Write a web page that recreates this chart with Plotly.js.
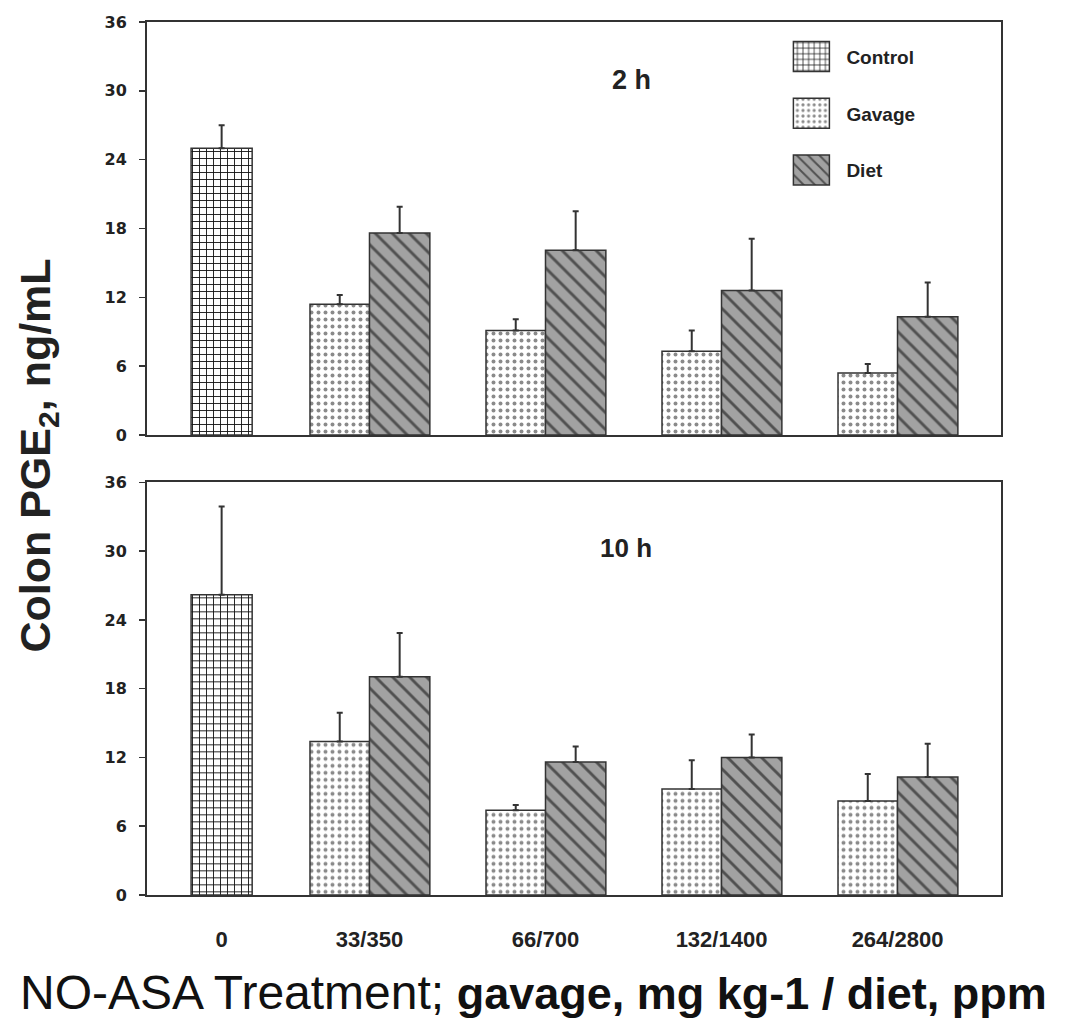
<!DOCTYPE html>
<html><head><meta charset="utf-8">
<script src="https://cdn.plot.ly/plotly-3.0.1.min.js"></script>
<style>body{margin:0;background:#fff}</style>
</head><body>
<div id="chart" style="width:1067px;height:1021px"></div>
<script>
// ---- data ----
const doseLabels = ['0', '33/350', '66/700', '132/1400', '264/2800'];
const seriesNames = ['Control', 'Gavage', 'Diet'];
const panelTitles = ['2 h', '10 h'];

const control2h = [25.0];
const controlErr2h = [2.0];
const gavage2h = [11.4, 9.1, 7.3, 5.4];
const gavageErr2h = [0.8, 1.0, 1.8, 0.8];
const diet2h = [17.6, 16.1, 12.6, 10.3];
const dietErr2h = [2.3, 3.4, 4.5, 3.0];

const control10h = [26.2];
const controlErr10h = [7.7];
const gavage10h = [13.4, 7.4, 9.25, 8.2];
const gavageErr10h = [2.5, 0.45, 2.5, 2.35];
const diet10h = [19.05, 11.6, 12.0, 10.3];
const dietErr10h = [3.8, 1.35, 2.0, 2.9];

const yTicks = [0, 6, 12, 18, 24, 30, 36];

// ---- layout / style ----
const controlSlot = 0.16;
const doseX = doseLabels.slice(1).map((_, i) => i + 1);
const FONT = 'Arial, "Liberation Sans", sans-serif';
const WIDE = '"DejaVu Sans", Verdana, sans-serif';
const lineCol = '#333';

const styles = {
  Control: {color: '#ffffff', pattern: {shape: '+', fgcolor: '#111', bgcolor: '#fff', size: 7, solidity: 0.24}},
  Gavage: {color: '#ffffff', pattern: {shape: '.', fgcolor: '#8a8a8a', bgcolor: '#fff', size: 7, solidity: 0.25}},
  Diet: {color: '#9a9a9a', pattern: {shape: '\\', fgcolor: '#505050', bgcolor: '#a2a2a2', size: 12, solidity: 0.24}}
};

function errObj(arr) {
  return {type: 'data', symmetric: false, array: arr, arrayminus: arr.map(() => 0),
          color: lineCol, thickness: 2, width: 3};
}

function bar(name, x, y, err, xa, ya, showlegend, width, offset) {
  return {
    type: 'bar', name: name, x: x, y: y, xaxis: xa, yaxis: ya,
    width: width, offset: offset, showlegend: showlegend,
    legendgroup: name,
    marker: {color: styles[name].color, pattern: styles[name].pattern,
             line: {color: lineCol, width: 1.5}},
    error_y: errObj(err)
  };
}

const wG = 0.338, wD = 0.343, wC = 0.347;
const traces = [
  bar(seriesNames[0], [controlSlot], control2h, controlErr2h, 'x2', 'y2', true, wC, -wC / 2),
  bar(seriesNames[1], doseX, gavage2h, gavageErr2h, 'x2', 'y2', true, wG, -wG),
  bar(seriesNames[2], doseX, diet2h, dietErr2h, 'x2', 'y2', true, wD, 0),
  bar(seriesNames[0], [controlSlot], control10h, controlErr10h, 'x', 'y', false, wC, -wC / 2),
  bar(seriesNames[1], doseX, gavage10h, gavageErr10h, 'x', 'y', false, wG, -wG),
  bar(seriesNames[2], doseX, diet10h, dietErr10h, 'x', 'y', false, wD, 0)
];

const xRange = [-0.264, 4.588];
const yAxisBase = {
  range: [0, 36], tickvals: yTicks, ticks: 'outside', ticklen: 6, tickwidth: 1.5,
  tickcolor: lineCol, showline: true, linecolor: lineCol, linewidth: 2, mirror: true,
  ticklabelstandoff: 9,
  showgrid: false, zeroline: false, tickfont: {family: WIDE, size: 16, color: '#222', weight: 'bold'}
};

const layout = {
  width: 1067, height: 1021,
  margin: {l: 147, r: 66, t: 22, b: 126},
  paper_bgcolor: '#fff', plot_bgcolor: '#fff',
  barmode: 'overlay',
  font: {family: FONT, color: '#222'},
  xaxis: {domain: [0, 1], anchor: 'y', range: xRange, tickvals: [controlSlot].concat(doseX),
          ticktext: doseLabels, ticks: '', ticklabelstandoff: 24,
          showline: true, linecolor: lineCol, linewidth: 2, mirror: true, showgrid: false, zeroline: false,
          tickfont: {family: FONT, size: 22, color: '#222', weight: 'bold'}},
  xaxis2: {domain: [0, 1], anchor: 'y2', range: xRange, showticklabels: false, ticks: '',
           showline: true, linecolor: lineCol, linewidth: 2, mirror: true, showgrid: false, zeroline: false},
  yaxis: Object.assign({}, yAxisBase, {domain: [0, 0.4727], anchor: 'x'}),
  yaxis2: Object.assign({}, yAxisBase, {domain: [0.5269, 1], anchor: 'x2'}),
  legend: {x: 0.737, y: 0.982, xanchor: 'left', yanchor: 'top', bgcolor: 'rgba(0,0,0,0)',
           traceorder: 'grouped', tracegroupgap: 29, itemwidth: 60,
           font: {family: FONT, size: 19, color: '#222', weight: 'bold'}},
  annotations: [
    {text: '<b>' + panelTitles[0] + '</b>', xref: 'paper', yref: 'paper', x: 0.567, y: 0.9336,
     xanchor: 'center', yanchor: 'middle',
     showarrow: false, font: {family: FONT, size: 27, color: '#222'}},
    {text: '<b>' + panelTitles[1] + '</b>', xref: 'paper', yref: 'paper', x: 0.561, y: 0.3975,
     xanchor: 'center', yanchor: 'middle',
     showarrow: false, font: {family: FONT, size: 26, color: '#222'}},
    {text: '<b>Colon PGE<sub>2</sub>, ng/mL</b>', xref: 'paper', yref: 'paper',
     x: -0.128, y: 0.503, xanchor: 'center', yanchor: 'middle', textangle: -90, showarrow: false,
     font: {family: FONT, size: 43, color: '#222'}},
    {text: '<span style="font-size:48px">NO-ASA Treatment;</span><b style="font-size:45px"> gavage, mg kg-1 / diet, ppm</b>',
     xref: 'paper', yref: 'paper', x: 0.453, y: -0.112, xanchor: 'center', yanchor: 'middle', showarrow: false,
     font: {family: FONT, size: 45, color: '#111'}}
  ]
};

Plotly.newPlot('chart', traces, layout, {displayModeBar: false, staticPlot: true}).then(function (gd) {
  // enlarge legend swatches to match the reference's big patterned boxes
  gd.querySelectorAll('.legend .legendpoints path').forEach(function (p) {
    p.setAttribute('d', 'M18,15H-18V-15H18Z');
  });
});
</script>
</body></html>
